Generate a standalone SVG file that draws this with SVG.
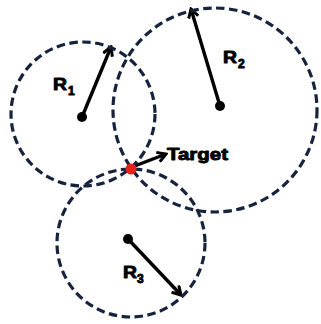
<svg xmlns="http://www.w3.org/2000/svg" width="321" height="324" viewBox="0 0 321 324">
<style>
.c{fill:none;stroke:#17223d;stroke-width:3.2;stroke-dasharray:8.5 4.5}
.a{stroke:#000;stroke-width:3.4;fill:none;marker-end:url(#ah)}
.d{fill:#000}
.t{font-family:"Liberation Sans",Arial,sans-serif;font-weight:bold;fill:#000;stroke:#000;stroke-width:0.9;stroke-linejoin:round}
</style>
<defs>
<marker id="ah" markerWidth="12" markerHeight="12" viewBox="0 0 12 12" refX="10" refY="6" orient="auto" markerUnits="userSpaceOnUse">
<path d="M1.5,1 L10,6 L1.5,11" fill="none" stroke="#000" stroke-width="3" stroke-linejoin="miter"/>
</marker>
</defs>
<rect width="321" height="324" fill="#fff"/>
<g id="connectors">
<line class="a" x1="82" y1="117" x2="111" y2="47"/>
<line class="a" x1="220" y1="106" x2="191" y2="9"/>
<line class="a" x1="128" y1="239" x2="181" y2="295"/>
<line class="a" x1="132" y1="167" x2="166" y2="154"/>
</g>
<g id="circle1"><circle class="c" cx="83" cy="114" r="72"/><circle class="d" cx="82" cy="117" r="5"/><text class="t" x="53" y="90" font-size="17" textLength="14" lengthAdjust="spacingAndGlyphs">R</text><text class="t" x="68" y="95" font-size="12">1</text></g>
<g id="circle2"><circle class="c" cx="215" cy="110" r="102"/><circle class="d" cx="220" cy="106" r="5"/><text class="t" x="223" y="63" font-size="17" textLength="14" lengthAdjust="spacingAndGlyphs">R</text><text class="t" x="238" y="68" font-size="12">2</text></g>
<g id="circle3"><circle class="c" cx="131" cy="243" r="74"/><circle class="d" cx="128" cy="239" r="5"/><text class="t" x="123" y="278" font-size="17" textLength="14" lengthAdjust="spacingAndGlyphs">R</text><text class="t" x="137" y="283" font-size="12">3</text></g>
<g id="target"><circle cx="131" cy="169" r="5.5" fill="#e2231a" stroke="none"/><text class="t" x="167" y="160" font-size="17" textLength="61" lengthAdjust="spacingAndGlyphs">Target</text></g>
</svg>
